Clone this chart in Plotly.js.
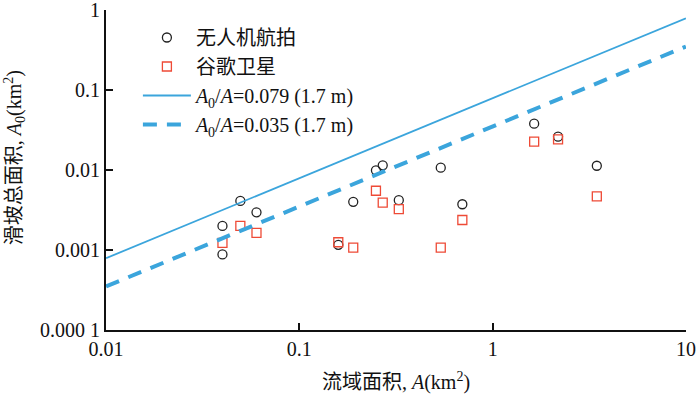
<!DOCTYPE html>
<html>
<head>
<meta charset="utf-8">
<script src="https://cdn.plot.ly/plotly-3.0.1.min.js"></script>
<style>
  body { margin: 0; background: #fff; }
  #chart { width: 700px; height: 396px; }
</style>
</head>
<body>
<div id="chart"></div>
<script>
// drainage area A (km2) and total landslide area A0 (km2)
var uavX = [0.04, 0.04, 0.0495, 0.06, 0.159, 0.19, 0.249, 0.27, 0.327, 0.539, 0.697, 1.64, 2.18, 3.46];
var uavY = [0.002, 0.00088, 0.0041, 0.00296, 0.00116, 0.004, 0.0099, 0.01145, 0.0042, 0.0107, 0.00373, 0.0379, 0.0261, 0.0113];

var gX = [0.04, 0.0495, 0.06, 0.159, 0.19, 0.249, 0.27, 0.327, 0.539, 0.697, 1.64, 2.18, 3.46];
var gY = [0.00123, 0.002, 0.00164, 0.00125, 0.00107, 0.0055, 0.0039, 0.00325, 0.00107, 0.00237, 0.0226, 0.0242, 0.00469];

var lineX = [0.01, 10];
var solidY = [0.00079, 0.79];
var dashY = [0.00035, 0.35];

var xTicks = [0.01, 0.1, 1, 10];
var xTickText = ['0.01', '0.1', '1', '10'];
var yTicks = [0.0001, 0.001, 0.01, 0.1, 1];
var yTickText = ['0.000 1', '0.001', '0.01', '0.1', '1'];

var serif = '"Liberation Serif", "Times New Roman", "Noto Sans CJK SC", serif';
var blue = '#3ba5dc';

var traces = [
  {
    x: uavX, y: uavY, mode: 'markers', name: '无人机航拍',
    marker: {symbol: 'circle-open', size: 9, color: '#222', line: {width: 1.3}}
  },
  {
    x: gX, y: gY, mode: 'markers', name: '谷歌卫星',
    marker: {symbol: 'square-open', size: 9, color: '#ee4a36', line: {width: 1.3}}
  },
  {
    x: lineX, y: solidY, mode: 'lines', name: '<i>A</i><sub>0</sub>/<i>A</i>=0.079 (1.7 m)',
    line: {color: blue, width: 1.8}
  },
  {
    x: lineX, y: dashY, mode: 'lines', name: '<i>A</i><sub>0</sub>/<i>A</i>=0.035 (1.7 m)',
    line: {color: blue, width: 4, dash: '14px,10px'}
  }
];

var layout = {
  width: 700, height: 396,
  margin: {l: 106, r: 14, t: 10, b: 66},
  paper_bgcolor: '#fff', plot_bgcolor: '#fff',
  font: {family: serif, size: 20, color: '#111'},
  showlegend: true,
  legend: {
    x: 0.055, y: 0.975, xanchor: 'left', yanchor: 'top',
    bgcolor: 'rgba(0,0,0,0)', font: {family: serif, size: 20},
    itemwidth: 48, tracegroupgap: 0
  },
  xaxis: {
    type: 'log', range: [-2.0005, 1.0005],
    tickvals: xTicks, ticktext: xTickText, ticklabeloverflow: 'allow',
    ticks: 'inside', ticklen: 7, tickwidth: 2, tickcolor: '#111',
    showline: true, linecolor: '#111', linewidth: 2,
    showgrid: false, zeroline: false,
    title: {text: '流域面积, <i>A</i>(km<sup>2</sup>)', standoff: 16, font: {size: 20}}
  },
  yaxis: {
    type: 'log', range: [-4.0005, 0.0005],
    tickvals: yTicks, ticktext: yTickText, ticklabeloverflow: 'allow',
    ticks: 'inside', ticklen: 7, tickwidth: 2, tickcolor: '#111',
    showline: true, linecolor: '#111', linewidth: 2,
    showgrid: false, zeroline: false
  },
  annotations: [{
    text: '滑坡总面积, <i>A</i><sub>0</sub>(km<sup>2</sup>)',
    xref: 'paper', yref: 'paper', x: -0.157, y: 0.54,
    xanchor: 'center', yanchor: 'middle', textangle: -90,
    showarrow: false, font: {family: serif, size: 20, color: '#111'}
  }]
};

Plotly.newPlot('chart', traces, layout, {displayModeBar: false, staticPlot: true});
</script>
</body>
</html>
